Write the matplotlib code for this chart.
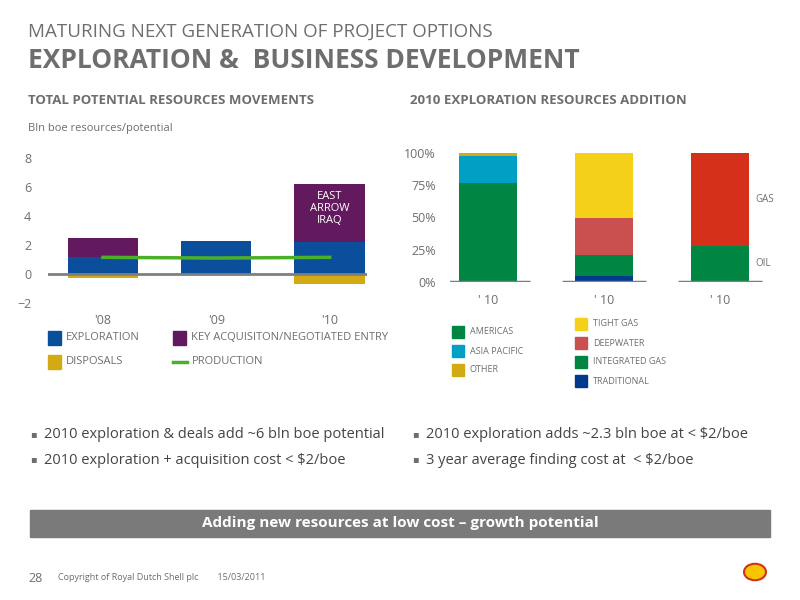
import numpy as np
import matplotlib.pyplot as plt
from matplotlib.patches import Rectangle, Circle

plt.rcParams['font.family'] = ['Open Sans', 'DejaVu Sans']

# left chart data (bln boe)
years = ["'08", "'09", "'10"]
exploration = [1.2, 2.3, 2.2]
acquisition = [1.3, 0.0, 4.0]
disposals = [-0.3, 0.0, -0.7]
production = [1.15, 1.1, 1.15]

# right chart data (%)
r_labels = ["' 10", "' 10", "' 10"]
region_names = ["AMERICAS", "ASIA PACIFIC", "OTHER"]
region_vals = [77, 21, 2]
type_names = ["TRADITIONAL", "INTEGRATED GAS", "DEEPWATER", "TIGHT GAS"]
type_vals = [5, 16, 29, 50]
fluid_names = ["OIL", "GAS"]
fluid_vals = [28, 72]

C_EXP, C_ACQ, C_DIS, C_PROD = '#0b4f9c', '#62195e', '#d4aa14', '#4caf2a'
region_cols = ['#008542', '#009fc4', '#d4aa14']
type_cols = ['#003a8c', '#008542', '#c9504f', '#f5d018']
fluid_cols = ['#008542', '#d4301a']
GREY = '#6e6e6e'

fig = plt.figure(figsize=(8, 6), dpi=100)
W, H = 800, 600

def ft(x, y, s, **kw):
    fig.text(x / W, 1 - y / H, s, **kw)

def rect(x0, y0, x1, y1):
    return [x0 / W, 1 - y1 / H, (x1 - x0) / W, (y1 - y0) / H]

# header
ft(28, 32, "MATURING NEXT GENERATION OF PROJECT OPTIONS", fontsize=13.5, color=GREY, va='center')
ft(28, 60, "EXPLORATION &  BUSINESS DEVELOPMENT", fontsize=19, color=GREY, weight='bold', va='center')
ft(28, 100, "TOTAL POTENTIAL RESOURCES MOVEMENTS", fontsize=9.5, color=GREY, weight='bold', va='center')
ft(410, 100, "2010 EXPLORATION RESOURCES ADDITION", fontsize=9.5, color=GREY, weight='bold', va='center')
ft(28, 128, "Bln boe resources/potential", fontsize=8, color=GREY, va='center')

# left chart
ax = fig.add_axes(rect(48, 158, 367, 303))
x = np.arange(len(years))
w = 0.62
ax.bar(x, exploration, w, color=C_EXP)
ax.bar(x, acquisition, w, bottom=exploration, color=C_ACQ)
ax.bar(x, disposals, w, color=C_DIS)
ax.plot(x, production, color=C_PROD, lw=2.5)
ax.axhline(0, color='#7f7f7f', lw=2)
ax.text(2, 4.5, "EAST\nARROW\nIRAQ", color='white', ha='center', va='center', fontsize=8, linespacing=1.1)
ax.set_xlim(-0.485, 2.33)
ax.set_ylim(-2, 8)
ax.set_yticks([-2, 0, 2, 4, 6, 8])
ax.set_xticks(x)
ax.set_xticklabels(years)
ax.tick_params(length=0, labelsize=9, labelcolor=GREY)
ax.tick_params(axis='y', pad=12)
ax.tick_params(axis='x', pad=8)
for s in ax.spines.values():
    s.set_visible(False)

# left legend
for (lx, ly, col, name) in [(48, 338, C_EXP, "EXPLORATION"), (173, 338, C_ACQ, "KEY ACQUISITON/NEGOTIATED ENTRY"),
                            (48, 362, C_DIS, "DISPOSALS")]:
    fig.patches.append(Rectangle((lx / W, 1 - (ly + 7) / H), 13 / W, 14 / H, color=col, transform=fig.transFigure))
    ft(lx + 18, ly, name, fontsize=8, color=GREY, va='center')
fig.lines.append(plt.Line2D([173 / W, 187 / W], [1 - 362 / H] * 2, color=C_PROD, lw=2.5, transform=fig.transFigure))
ft(192, 362, "PRODUCTION", fontsize=8, color=GREY, va='center')

# right chart
ax2 = fig.add_axes(rect(450, 153, 770, 282))
xr = np.arange(3)
wr = 0.5
for i, (vals, cols) in enumerate([(region_vals, region_cols), (type_vals, type_cols), (fluid_vals, fluid_cols)]):
    bottom = 0
    for v, c in zip(vals, cols):
        ax2.bar(xr[i], v, wr, bottom=bottom, color=c)
        bottom += v
    ax2.hlines(0, xr[i] - 0.36, xr[i] + 0.36, color='#7f7f7f', lw=2.5)
ax2.text(2.3, 64, "GAS", fontsize=7, color=GREY, va='center')
ax2.text(2.3, 14, "OIL", fontsize=7, color=GREY, va='center')
ax2.set_xlim(-0.33, 2.43)
ax2.set_ylim(0, 100)
ax2.set_yticks([0, 25, 50, 75, 100])
ax2.set_yticklabels(['0%', '25%', '50%', '75%', '100%'])
ax2.set_xticks(xr)
ax2.set_xticklabels(r_labels)
ax2.tick_params(length=0, labelsize=9, labelcolor=GREY)
ax2.tick_params(axis='y', pad=10)
ax2.tick_params(axis='x', pad=9)
for s in ax2.spines.values():
    s.set_visible(False)

# right legend
items = [(452, 332, region_cols[0], region_names[0]), (452, 351, region_cols[1], region_names[1]),
         (452, 370, region_cols[2], region_names[2]),
         (575, 324, type_cols[3], type_names[3]), (575, 343, type_cols[2], type_names[2]),
         (575, 362, type_cols[1], type_names[1]), (575, 381, type_cols[0], type_names[0])]
for lx, ly, col, name in items:
    fig.patches.append(Rectangle((lx / W, 1 - (ly + 6) / H), 12 / W, 12 / H, color=col, transform=fig.transFigure))
    ft(lx + 18, ly, name, fontsize=6.5, color=GREY, va='center')

# bullets
for bx, by, s in [(30, 435, "2010 exploration & deals add ~6 bln boe potential"),
                  (30, 460, "2010 exploration + acquisition cost < $2/boe"),
                  (412, 435, "2010 exploration adds ~2.3 bln boe at < $2/boe"),
                  (412, 460, "3 year average finding cost at  < $2/boe")]:
    ft(bx, by, "\u25aa", fontsize=7, color=GREY, va='center')
    ft(bx + 14, by, s, fontsize=10.5, color='#444444', va='center')

# banner
fig.patches.append(Rectangle((30 / W, 1 - 537 / H), 740 / W, 27 / H, color='#7a7a7a', transform=fig.transFigure))
ft(400, 523, "Adding new resources at low cost \u2013 growth potential", fontsize=11, color='white',
   weight='bold', ha='center', va='center')

# footer
ft(28, 578, "28", fontsize=9, color=GREY, va='center')
ft(58, 578, "Copyright of Royal Dutch Shell plc        15/03/2011", fontsize=6.5, color=GREY, va='center')
fig.patches.append(Circle((755 / W, 1 - 572 / H), 11 / W, color='#f7c600', ec='#d4301a', lw=1.5,
                          transform=fig.transFigure))

fig.savefig('out.png', dpi=100)
